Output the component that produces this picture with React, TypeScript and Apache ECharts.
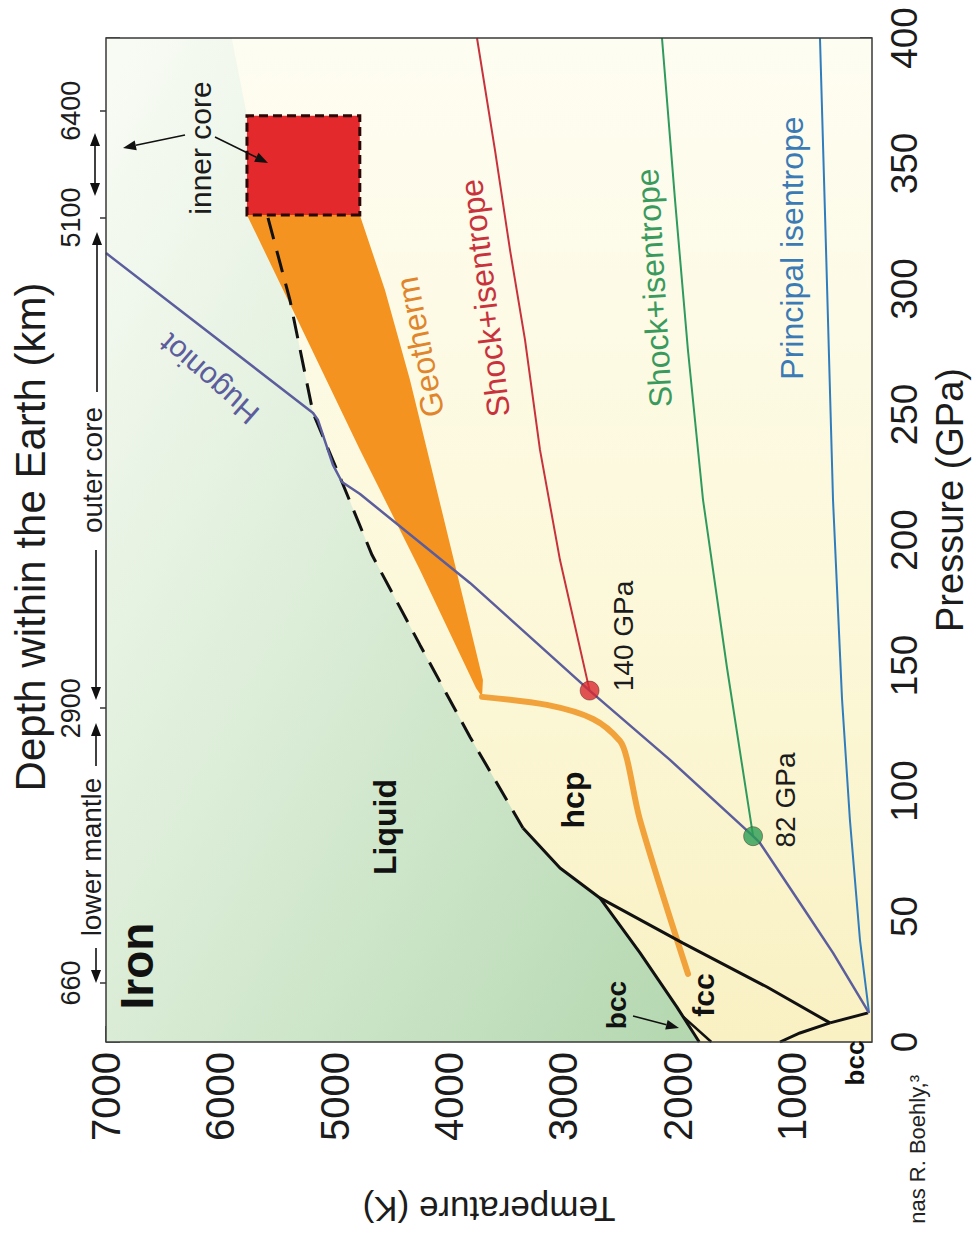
import React, { useEffect, useRef } from "react";
import * as echarts from "echarts";

const FONT = "'Liberation Sans', Arial, Helvetica, sans-serif";

// ---- axis ticks ----
const temperatureTicks = [1000, 2000, 3000, 4000, 5000, 6000, 7000];
const depthKm = ["660", "2900", "5100", "6400"];
const depthPressure = [23.5, 133, 328.5, 371];

// ---- curves: [Temperature (K), Pressure (GPa)] ----
const hugoniot = [
  [326, 11.6], [641, 35.5], [930, 55.4], [1280, 79.3], [1340, 82], [2067, 112.4],
  [2770, 140], [3816, 182.9], [4778, 218.3], [4936, 223.1], [5015, 229.9],
  [5146, 247.8], [5189, 250.6], [7000, 314.3],
];
const redIsentrope = [
  [2770, 140], [3029, 192], [3204, 235.9], [3335, 279.7], [3466, 315.5], [3598, 355.4], [3755, 400],
];
const greenIsentrope = [
  [1340, 82], [1568, 149], [1778, 216], [1910, 275.7], [2023, 335.5], [2137, 400],
];
const principalIsentrope = [
  [326, 11.6], [405, 40.6], [493, 88.4], [562, 136.5], [641, 216], [702, 315.5], [755, 400],
];
const meltingDashed = [
  [5583, 328.3], [5391, 295.6], [5189, 250.6], [4936, 223.1], [4673, 194],
  [4254, 158.2], [3816, 121.5], [3353, 85.3],
];
const meltingSolid = [
  [3353, 85.3], [3029, 69.3], [2680, 57.4], [2329, 35.5], [2006, 13.9], [1811, 0],
];
const deltaGamma = [[1705, 0], [1950, 10]];
const fccHcp = [[2680, 57.4], [1953, 39.4], [1218, 21.9], [667, 7.6]];
const alphaGamma = [[1105, 0], [930, 3.6], [667, 7.6]];
const alphaHcp = [[667, 7.6], [335, 11.6]];
const geothermBand = [
  [5767, 329.5], [5303, 285.7], [4778, 235.9], [4254, 188], [3764, 141], [3711, 137.5],
  [3703, 144.2], [3947, 190], [4149, 227.9], [4341, 263.7], [4560, 299.6], [4780, 329.5],
];
const geothermLine = [
  [3711, 137.5], [3143, 134.3], [2740, 128.7], [2504, 119.9], [2443, 112.7], [2329, 88.4], [1909, 27.1],
];
const innerCoreT = [4780, 5767];
const innerCoreP = [329.5, 369];
const shockPoints = [
  { name: "140 GPa", value: [2770, 140], color: "#d8292f" },
  { name: "82 GPa", value: [1340, 82], color: "#2a9d55" },
];

function polySeries(pts: number[][], style: any, z: number) {
  return {
    type: "custom",
    xAxisIndex: 0,
    yAxisIndex: 0,
    z,
    silent: true,
    data: [[7000, 0]],
    renderItem: (_p: any, api: any) => ({
      type: "polygon",
      shape: { points: pts.map((p) => api.coord(p)) },
      style,
    }),
  };
}

function lineSeries(data: number[][], color: string, width: number, extra: any = {}) {
  return {
    type: "line",
    data,
    xAxisIndex: 0,
    yAxisIndex: 0,
    showSymbol: false,
    symbol: "none",
    silent: true,
    z: 5,
    lineStyle: { color, width, ...extra },
    ...(extra.smooth ? { smooth: extra.smooth } : {}),
  };
}

function txt(text: string, x: number, y: number, rotDeg: number, size: number, color = "#1c1c1c", weight: any = "normal", align = "center") {
  return {
    type: "text",
    x,
    y,
    rotation: (rotDeg * Math.PI) / 180,
    z: 100,
    silent: true,
    style: {
      text,
      fill: color,
      fontSize: size,
      fontFamily: FONT,
      fontWeight: weight,
      align,
      verticalAlign: "middle",
    },
  };
}

function arrow(x1: number, y1: number, x2: number, y2: number, len = 13, w = 5) {
  const a = Math.atan2(y2 - y1, x2 - x1);
  const bx = x2 - len * Math.cos(a);
  const by = y2 - len * Math.sin(a);
  const px = -Math.sin(a) * w;
  const py = Math.cos(a) * w;
  return [
    { type: "line", z: 100, silent: true, shape: { x1, y1, x2: bx, y2: by }, style: { stroke: "#111", lineWidth: 1.6 } },
    { type: "polygon", z: 100, silent: true, shape: { points: [[x2, y2], [bx + px, by + py], [bx - px, by - py]] }, style: { fill: "#111" } },
  ];
}

function buildOption() {
  const meltingAll = [...meltingDashed, ...meltingSolid.slice(1)];
  const liquid = [[7000, 400], [5900, 400], [5767, 369], ...meltingAll, [7000, 0]];
  const plotBox = [[7000, 0], [300, 0], [300, 400], [7000, 400]];
  const core = [
    [innerCoreT[0], innerCoreP[0]], [innerCoreT[1], innerCoreP[0]],
    [innerCoreT[1], innerCoreP[1]], [innerCoreT[0], innerCoreP[1]],
  ];

  const tickStyle = { color: "#333", width: 1.5 };

  return {
    animation: false,
    backgroundColor: "#ffffff",
    grid: {
      left: 106, top: 38, width: 766, height: 1004,
      show: true, borderColor: "#3a3a3a", borderWidth: 1.5, backgroundColor: "transparent", z: 10,
    },
    xAxis: [
      {
        type: "value", min: 300, max: 7000, inverse: true, position: "bottom",
        axisLine: { show: false },
        splitLine: { show: false },
        axisTick: { show: true, inside: true, length: 16, lineStyle: tickStyle, customValues: temperatureTicks },
        axisLabel: {
          customValues: temperatureTicks, rotate: 90, margin: 10, fontSize: 40, fontFamily: FONT, color: "#1c1c1c",
          formatter: (v: number) => (v % 1000 === 0 ? String(v) : ""),
        },
        name: "Temperature (K)", nameLocation: "middle", nameGap: 150, nameRotate: 180,
        nameTextStyle: { fontSize: 35, fontFamily: FONT, color: "#1c1c1c" },
      },
    ],
    yAxis: [
      {
        type: "value", min: 0, max: 400, interval: 50, position: "right",
        axisLine: { show: false }, splitLine: { show: false },
        axisTick: { show: true, inside: true, length: 12, lineStyle: tickStyle },
        axisLabel: { rotate: 90, margin: 14, fontSize: 37, fontFamily: FONT, color: "#1c1c1c" },
      },
      {
        type: "value", min: 0, max: 400, interval: 50, position: "left",
        axisLine: { show: false }, splitLine: { show: false },
        axisTick: { show: true, inside: true, length: 14, lineStyle: tickStyle },
        axisLabel: { show: false },
      },
      {
        type: "value", min: 0, max: 400, position: "left",
        axisLine: { show: false }, splitLine: { show: false },
        axisTick: { show: true, inside: false, length: 6, lineStyle: tickStyle, customValues: depthPressure },
        axisLabel: {
          customValues: depthPressure, rotate: 90, margin: 22, fontSize: 27, fontFamily: FONT, color: "#1c1c1c",
          formatter: (v: number) => {
            const i = depthPressure.indexOf(v);
            return i >= 0 ? depthKm[i] : "";
          },
        },
      },
    ],
    series: [
      polySeries(plotBox, {
        fill: new echarts.graphic.LinearGradient(0, 0, 0, 1, [
          { offset: 0, color: "#fefdf2" },
          { offset: 0.55, color: "#fcf8da" },
          { offset: 1, color: "#f9f1c3" },
        ]),
      }, 1),
      polySeries(liquid, {
        fill: new echarts.graphic.LinearGradient(1, 1, 0, 0.05, [
          { offset: 0, color: "#b3d7af" },
          { offset: 0.5, color: "#d8ebd4" },
          { offset: 1, color: "#f8fbf4" },
        ]),
      }, 2),
      polySeries(geothermBand, { fill: "#f4931f" }, 3),
      polySeries(core, { fill: "#e4292c", stroke: "#2a0606", lineWidth: 3, lineDash: [9, 5] }, 4),
      lineSeries(geothermLine, "#f2a23a", 6, { smooth: 0.3, cap: "round" }),
      lineSeries(meltingDashed, "#111", 3, { type: [22, 12] }),
      lineSeries(meltingSolid, "#111", 3),
      lineSeries(deltaGamma, "#111", 2.5),
      lineSeries(fccHcp, "#111", 3),
      lineSeries(alphaGamma, "#111", 3),
      lineSeries(alphaHcp, "#111", 3),
      lineSeries(principalIsentrope, "#2f7dbd", 2),
      lineSeries(greenIsentrope, "#2f9a5e", 2),
      lineSeries(redIsentrope, "#c8323c", 2),
      lineSeries(hugoniot, "#5b5d9c", 2.5),
      {
        type: "scatter", xAxisIndex: 0, yAxisIndex: 0, z: 7, silent: true, symbolSize: 19,
        data: shockPoints.map((p) => ({ value: p.value, itemStyle: { color: p.color, borderColor: "rgba(60,20,20,0.5)", borderWidth: 1 } })),
      },
    ],
    graphic: [
      txt("Depth within the Earth (km)", 30, 537, 90, 42),
      txt("Pressure (GPa)", 950, 500, 90, 38),
      txt("lower mantle", 91, 857, 90, 28),
      txt("outer core", 92, 470, 90, 28),
      txt("inner core", 200, 148, 90, 30),
      txt("Iron", 137, 966, 90, 46, "#111", "bold"),
      txt("Liquid", 385, 827, 90, 32, "#111", "bold"),
      txt("hcp", 573, 800, 90, 32, "#111", "bold"),
      txt("fcc", 703, 995, 90, 30, "#111", "bold"),
      txt("bcc", 616, 1005, 90, 28, "#111", "bold"),
      txt("bcc", 855, 1063, 90, 26, "#111", "bold"),
      txt("Hugoniot", 209, 379, 139, 30, "#5b5d9c"),
      txt("Geotherm", 420, 347, 101, 32, "#e0852c"),
      txt("Shock+isentrope", 485, 298, 96.8, 32, "#c8323c"),
      txt("Shock+isentrope", 654, 288, 93.3, 32, "#3a9a5e"),
      txt("Principal isentrope", 792, 248, 90, 32, "#3a7ab5"),
      txt("140 GPa", 623, 636, 90, 28),
      txt("82 GPa", 785, 800, 90, 28),
      txt("nas R. Boehly,³", 917, 1075, 90, 22, "#222", "normal", "right"),
      ...arrow(185, 135, 123, 148),
      ...arrow(215, 137, 268, 163),
      ...arrow(633, 1016, 679, 1028),
      ...arrow(96, 948, 96, 983),
      ...arrow(96, 766, 96, 723),
      ...arrow(96, 550, 96, 700),
      ...arrow(97, 392, 97, 232),
      ...arrow(95, 165, 95, 133),
      ...arrow(95, 165, 95, 196),
    ],
  };
}

export default function App() {
  const ref = useRef<HTMLDivElement>(null);
  useEffect(() => {
    if (!ref.current) return;
    const chart = echarts.init(ref.current, undefined, { renderer: "svg" });
    chart.setOption(buildOption() as any);
    return () => chart.dispose();
  }, []);
  return (
    <div
      ref={ref}
      style={{ position: "fixed", left: 0, top: 0, width: 975, height: 1234, background: "#fff" }}
    />
  );
}
